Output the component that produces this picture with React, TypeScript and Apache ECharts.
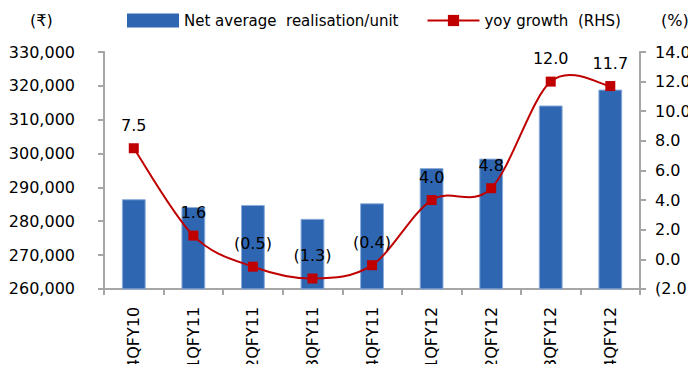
import React, { useEffect, useRef } from "react";
import * as echarts from "echarts";

const categories = ["4QFY10", "1QFY11", "2QFY11", "3QFY11", "4QFY11", "1QFY12", "2QFY12", "3QFY12", "4QFY12"];
const realisation = [286500, 284200, 284800, 280700, 285300, 295700, 298500, 314200, 318900];
const yoyGrowth = [7.5, 1.6, -0.5, -1.3, -0.4, 4.0, 4.8, 12.0, 11.7];
const barName = "Net average  realisation/unit";
const lineName = "yoy growth  (RHS)";

const FONT = "DejaVu Sans";
const RED = "#C00000";
const AXIS_GREY = "#A6A6A6";

const fmtPct = (v: number) => (v < 0 ? `(${Math.abs(v).toFixed(1)})` : v.toFixed(1));
const fmtNum = (v: number) => v.toLocaleString("en-US");

export default function App() {
  const ref = useRef<HTMLDivElement>(null);
  useEffect(() => {
    if (!ref.current) return;
    const chart = echarts.init(ref.current, null, { renderer: "svg" });
    const axisLine = { show: true, onZero: false, lineStyle: { color: AXIS_GREY, width: 2 } };
    const n = yoyGrowth.length;
    chart.setOption({
      animation: false,
      textStyle: { fontFamily: FONT },
      grid: { left: 104, right: 53, top: 52, bottom: 78, containLabel: false },
      legend: {
        left: 122,
        top: 8,
        itemGap: 28,
        itemWidth: 52,
        itemHeight: 14,
        textStyle: { fontFamily: FONT, fontSize: 15, color: "#000" },
        data: [
          { name: barName, icon: "rect", itemStyle: { borderWidth: 0 } },
          { name: lineName, lineStyle: { color: RED, width: 2, opacity: 1 } },
        ],
      },
      graphic: [
        { type: "text", left: 30, top: 12, style: { text: "(₹)", font: `16px ${FONT}`, fill: "#000" } },
        { type: "text", left: 661, top: 12, style: { text: "(%)", font: `16px ${FONT}`, fill: "#000" } },
      ],
      xAxis: {
        type: "category",
        data: categories,
        axisLine,
        axisTick: { show: true, alignWithLabel: false, length: 6, lineStyle: { color: AXIS_GREY, width: 2 } },
        axisLabel: { rotate: 90, fontSize: 16, color: "#000", fontFamily: FONT, margin: 18 },
      },
      yAxis: [
        {
          type: "value",
          min: 260000,
          max: 330000,
          interval: 10000,
          axisLine,
          axisTick: { show: true, length: 6, lineStyle: { color: AXIS_GREY, width: 2 } },
          splitLine: { show: false },
          axisLabel: { fontSize: 16, color: "#000", fontFamily: FONT, margin: 29, formatter: fmtNum },
        },
        {
          type: "value",
          min: -2,
          max: 14,
          interval: 2,
          position: "right",
          axisLine,
          axisTick: { show: true, length: 6, lineStyle: { color: AXIS_GREY, width: 2 } },
          splitLine: { show: false },
          axisLabel: { fontSize: 16, color: "#000", fontFamily: FONT, margin: 15, formatter: fmtPct },
        },
      ],
      series: [
        {
          name: barName,
          type: "bar",
          data: realisation,
          barWidth: "40%",
          itemStyle: { color: "#2F66B1", borderColor: "#8DADDB", borderWidth: 1 },
        },
        {
          name: "curve",
          type: "custom",
          coordinateSystem: "cartesian2d",
          yAxisIndex: 1,
          silent: true,
          z: 4,
          encode: { x: 0, y: 1 },
          data: yoyGrowth.map((v, i) => [i, v]),
          renderItem: (params: any, api: any) => {
            const i = params.dataIndex;
            if (i >= n - 1) return null;
            const pt = (j: number) => {
              const k = Math.max(0, Math.min(n - 1, j));
              return api.coord([k, yoyGrowth[k]]);
            };
            const p0 = pt(i - 1);
            const p1 = pt(i);
            const p2 = pt(i + 1);
            const p3 = pt(i + 2);
            const t = 1 / 6;
            return {
              type: "bezierCurve",
              shape: {
                x1: p1[0],
                y1: p1[1],
                x2: p2[0],
                y2: p2[1],
                cpx1: p1[0] + (p2[0] - p0[0]) * t,
                cpy1: p1[1] + (p2[1] - p0[1]) * t,
                cpx2: p2[0] - (p3[0] - p1[0]) * t,
                cpy2: p2[1] - (p3[1] - p1[1]) * t,
              },
              style: { stroke: RED, lineWidth: 2, fill: "none" },
            };
          },
        },
        {
          name: lineName,
          type: "line",
          yAxisIndex: 1,
          data: yoyGrowth,
          symbol: "rect",
          symbolSize: 10,
          lineStyle: { color: RED, width: 2, opacity: 0 },
          itemStyle: { color: RED },
          label: {
            show: true,
            position: "top",
            distance: 10,
            fontSize: 16,
            color: "#000",
            fontFamily: FONT,
            formatter: (p: any) => fmtPct(p.value),
          },
          z: 5,
        },
      ],
    });
    return () => chart.dispose();
  }, []);
  return <div ref={ref} style={{ width: 696, height: 372, margin: -8 }} />;
}
